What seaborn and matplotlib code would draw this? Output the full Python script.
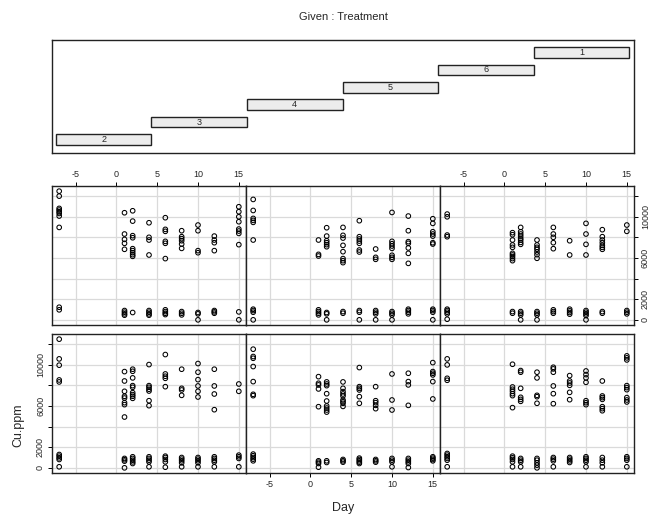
import numpy as np
import pandas as pd
import matplotlib
matplotlib.use("Agg")
import matplotlib.pyplot as plt
import seaborn as sns

# ---------------- data ----------------
days = [-7, 1, 2, 4, 6, 8, 10, 12, 15]
given_order = ["2", "3", "4", "5", "6", "1"]          # order along the given axis
panel_rows = [["5", "6", "1"], ["2", "3", "4"]]        # top row, bottom row

cu_t5 = {-7: [12460, 11980, 10790, 10630, 10470, 10300, 10050, 8950, 1220, 970],
         1: [10370, 8310, 7790, 7410, 6830, 900, 740, 580, 450],
         2: [10560, 9560, 8150, 7950, 6890, 6700, 6500, 6310, 6150, 710],
         4: [9400, 7990, 7730, 6280, 900, 740, 580, 450],
         6: [9890, 8760, 8570, 7600, 7410, 5930, 970, 800, 640, 510],
         8: [8630, 8050, 7860, 7660, 7340, 6920, 800, 640, 480],
         10: [9180, 8630, 6700, 6500, 710, 580, 0],
         12: [8110, 7730, 7470, 6700, 900, 770, 640],
         15: [10950, 10470, 9980, 9500, 8790, 8600, 8370, 7280, 770, 0]}
cu_t6 = {-7: [11660, 10590, 9820, 9630, 9440, 7730, 1030, 900, 740, 0],
         1: [7730, 6340, 6180, 970, 800, 640, 480],
         2: [8920, 8110, 7660, 7470, 7280, 7080, 710, 580, 0],
         4: [8950, 8180, 7920, 7210, 6600, 5930, 5730, 5540, 800, 640],
         6: [9600, 8050, 7830, 7630, 7410, 6760, 6570, 900, 740, 0],
         8: [6860, 6050, 5860, 900, 740, 580, 0],
         10: [10400, 7600, 7370, 7150, 6920, 6250, 6050, 5860, 800, 640, 480, 0],
         12: [10050, 8630, 7570, 7410, 6960, 6440, 5470, 1030, 900, 740, 580],
         15: [9790, 9340, 8530, 8310, 8110, 7470, 7340, 1030, 900, 740, 0]}
cu_t1 = {-7: [10240, 9980, 8210, 8050, 1030, 900, 740, 580, 60],
         1: [8440, 8240, 7730, 7250, 7020, 6440, 6280, 6120, 5930, 5730, 800, 640],
         2: [8950, 8530, 8310, 8110, 7890, 7730, 7500, 7310, 800, 640, 480, 0],
         4: [7730, 7250, 7020, 6830, 6570, 6310, 5960, 800, 640, 480, 0],
         6: [8950, 8310, 7990, 7470, 6890, 970, 800, 640],
         8: [7660, 6280, 1030, 870, 710, 550],
         10: [9340, 8310, 7310, 6280, 900, 740, 580, 420, 0],
         12: [8730, 8050, 7730, 7470, 7210, 7020, 6830, 800, 640],
         15: [9180, 8570, 900, 740, 580]}
cu_t2 = {-7: [12460, 10550, 9940, 8510, 8320, 1290, 1130, 970, 810, 100],
         1: [9320, 8410, 7410, 6930, 6760, 6310, 6120, 4920, 910, 780, 650, 0],
         2: [9550, 9350, 8710, 7960, 7800, 7280, 7090, 6930, 6730, 1070, 910, 740, 580, 420],
         4: [10000, 7960, 7800, 7610, 7440, 6500, 6020, 1070, 910, 740, 580, 100],
         6: [10970, 9090, 8870, 8670, 7860, 1130, 1000, 810, 580, 60],
         8: [9550, 7700, 7540, 7020, 1000, 840, 680, 490, 100],
         10: [10100, 9260, 8540, 7930, 7410, 6860, 1000, 840, 680, 490, 100],
         12: [9550, 7930, 7150, 5630, 1070, 910, 740, 580, 100],
         15: [8120, 7410, 1230, 1070, 910, 100]}
cu_t3 = {-7: [11490, 10780, 10610, 9810, 8350, 7120, 6990, 1330, 1170, 1000, 840, 680],
         1: [8830, 8190, 8030, 7640, 5920, 680, 550, 420, 60],
         2: [8320, 8120, 7960, 7180, 6470, 5990, 5790, 5600, 5400, 680, 520],
         4: [8320, 7700, 7380, 7150, 6960, 6570, 6410, 6250, 5950, 810, 680, 550],
         6: [9710, 7860, 7700, 7540, 6890, 6250, 940, 810, 680, 550, 420],
         8: [7860, 6500, 6310, 6050, 5730, 810, 680, 550],
         10: [9090, 6570, 5600, 910, 740, 580, 100],
         12: [9160, 8350, 8030, 6050, 910, 740, 580, 420, 30],
         15: [10190, 9320, 9160, 9000, 8350, 6670, 1070, 940, 810, 680]}
cu_t4 = {-7: [10550, 9970, 8670, 8480, 1390, 1230, 1070, 910, 740, 100],
         1: [10030, 7830, 7610, 7410, 7180, 6990, 5830, 1130, 970, 810, 580, 100],
         2: [9420, 9260, 7700, 6830, 6630, 6440, 910, 740, 580, 100],
         4: [9260, 8710, 7020, 6890, 6250, 910, 740, 490, 260, 0],
         6: [9740, 9580, 9260, 7930, 7180, 6210, 1000, 840, 680, 100],
         8: [8930, 8410, 8220, 7990, 7310, 6600, 1000, 840, 680, 520],
         10: [9380, 9030, 8710, 8280, 6500, 6310, 6120, 1070, 910, 740, 580, 100],
         12: [8410, 6960, 6800, 6630, 5920, 5730, 5530, 1000, 740, 490, 100],
         15: [10840, 10650, 10450, 7960, 7770, 7570, 6800, 6570, 6380, 1070, 910, 740, 100]}

x_ticks = [-5, 0, 5, 10, 15]
y_ticks = [0, 2000, 4000, 6000, 8000, 10000, 12000]
y_ticklabels = ["0", "2000", "", "6000", "", "10000", ""]

tables = {"1": cu_t1, "2": cu_t2, "3": cu_t3, "4": cu_t4, "5": cu_t5, "6": cu_t6}
rows = []
for trt, tab in tables.items():
    for d, vals in tab.items():
        for v in vals:
            rows.append((trt, d, v))
df = pd.DataFrame(rows, columns=["Treatment", "Day", "Cu.ppm"])

# ---------------- figure ----------------
sns.set_style("white")
plt.rcParams["font.family"] = ["Liberation Sans", "DejaVu Sans"]
W, H = 668, 521
fig = plt.figure(figsize=(W / 100, H / 100), dpi=100)


def ax_px(l, t, r, b):
    return fig.add_axes([l / W, 1 - b / H, (r - l) / W, (b - t) / H])


TICK_FS = 6.5

# given panel
gax = ax_px(52, 40, 634, 153)
lvl_x = np.arange(1, len(given_order) + 1)
gax.barh(lvl_x, [1.0] * len(lvl_x), left=lvl_x - 0.5, height=0.62,
         color="#ececec", edgecolor="#222222", linewidth=1.0)
for i, lab in zip(lvl_x, given_order):
    gax.text(i, i, lab, ha="center", va="center", fontsize=6.5)
gax.set_xlim(0.46, 6.55)
gax.set_ylim(0.22, 6.72)
gax.set_xticks([])
gax.set_yticks([])
for s in gax.spines.values():
    s.set_linewidth(1.0)
    s.set_color("#222222")
fig.text(343 / W, 1 - 17 / H, "Given : Treatment", ha="center", va="center", fontsize=8)

# main panels
col_edges = [52, 246, 440, 634]
row_edges = [(186, 325), (334, 473)]
for r, row in enumerate(panel_rows):
    t, b = row_edges[r]
    for c, trt in enumerate(row):
        ax = ax_px(col_edges[c], t, col_edges[c + 1], b)
        ax.set_xlim(-7.88, 15.88)
        ax.set_ylim(-500, 12960)
        for xv in x_ticks:
            ax.axvline(xv, color="#dadada", lw=0.9, zorder=0)
        for yv in y_ticks:
            ax.axhline(yv, color="#dadada", lw=0.9, zorder=0)
        sub = df[df["Treatment"] == trt]
        sns.scatterplot(data=sub, x="Day", y="Cu.ppm", ax=ax, marker="o", s=11,
                        facecolor="none", edgecolor="black", linewidth=0.75,
                        legend=False, zorder=3)
        ax.set_xlabel("")
        ax.set_ylabel("")
        for s in ax.spines.values():
            s.set_linewidth(1.0)
            s.set_color("#222222")
        ax.tick_params(length=3, width=0.7, labelsize=TICK_FS, pad=2, color="black")
        # x axis
        ax.set_xticks(x_ticks)
        ax.set_xticklabels([str(v) for v in x_ticks])
        if r == 0 and c in (0, 2):
            ax.xaxis.tick_top()
        elif r == 1 and c == 1:
            ax.xaxis.tick_bottom()
        else:
            ax.tick_params(axis="x", bottom=False, top=False,
                           labelbottom=False, labeltop=False)
        # y axis
        ax.set_yticks(y_ticks)
        ax.set_yticklabels(y_ticklabels, rotation=90, va="center")
        if r == 0 and c == 2:
            ax.yaxis.tick_right()
        elif r == 1 and c == 0:
            ax.yaxis.tick_left()
        else:
            ax.tick_params(axis="y", left=False, right=False,
                           labelleft=False, labelright=False)

fig.text(18 / W, 1 - 425 / H, "Cu.ppm", rotation=90, ha="center", va="center", fontsize=9)
fig.text(343 / W, 1 - 508 / H, "Day", ha="center", va="center", fontsize=9)

fig.savefig("out.png", dpi=100)
